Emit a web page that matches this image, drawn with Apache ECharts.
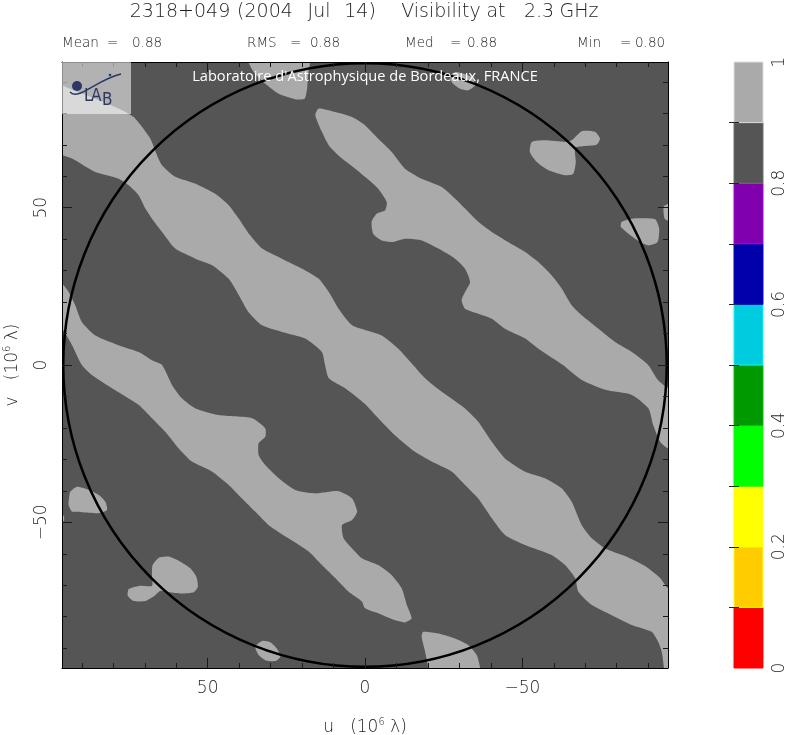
<!DOCTYPE html>
<html><head><meta charset="utf-8">
<script src="https://cdn.jsdelivr.net/npm/echarts@6/dist/echarts.min.js"></script>
<style>html,body{margin:0;padding:0;background:#fff}#c{width:786px;height:735px}</style>
</head><body><div id="c"></div>
<script>
// ---- axes / ticks (u, v in 10^6 lambda) ----
const axisRange = [-96.3, 96.3];
const minorTicks = [-90,-80,-70,-60,-50,-40,-30,-20,-10,0,10,20,30,40,50,60,70,80,90];
const majorTicks = [-50, 0, 50];
const circleCenter = [0, 0];
const circleRadius = 95.9;

// ---- colour scale ----
const cbEdges = [0,0.1,0.2,0.3,0.4,0.5,0.6,0.7,0.8,0.9,1];
const cbColors = ['#ff0000','#ffcc00','#ffff00','#00ff00','#009900','#00cce0','#0000aa','#8000b0','#555555','#aaaaaa'];
const cbLabels = [0,0.2,0.4,0.6,0.8,1];
const levelLow = 0.85;   // 0.8-0.9 band (background)
const levelHigh = 0.95;  // 0.9-1.0 band (light regions)

// ---- light (0.9 - 1.0) regions, outlines as [u, v] ----
const centralBand = [[98.5,90.6],[96.3,88.9],[85.7,84.6],[77.2,81.0],[73.5,78.8],[70.9,75.7],[68.2,71.9],[66.1,66.7],[64.5,63.5],[60.3,59.8],[53.9,57.6],[47.6,54.4],[43.3,50.8],[40.1,46.5],[36.5,41.2],[32.7,37.0],[26.4,33.8],[20.0,30.6],[14.7,27.4],[11.5,23.2],[8.4,17.9],[4.1,12.6],[0,11.1],[-5.3,9.4],[-10.6,5.2],[-15.3,0],[-19.1,-4.2],[-24.4,-8.5],[-31.8,-13.8],[-36.0,-18.0],[-40.3,-24.4],[-44.5,-29.7],[-50.9,-33.9],[-57.2,-36.0],[-62.5,-39.2],[-65.7,-43.5],[-68.9,-50.9],[-72.1,-55.1],[-76.3,-58.3],[-82.6,-60.7],[-89.0,-63.9],[-93.8,-67.7],[-96.3,-70.9],[-100.1,-70.9],[-100.1,-100.1],[-95.0,-100.1],[-95.0,-96.3],[-94.3,-91.1],[-93.2,-88.0],[-91.1,-84.8],[-84.8,-82.6],[-78.4,-79.5],[-72.1,-76.3],[-67.8,-72.1],[-66.8,-67.8],[-63.6,-63.6],[-59.3,-60.4],[-50.9,-57.2],[-44.5,-54.0],[-40.3,-48.7],[-36.0,-42.4],[-31.8,-38.1],[-27.6,-33.9],[-21.2,-30.7],[-15.9,-27.6],[-9.5,-22.3],[-4.2,-16.9],[0,-12.4],[6.3,-7.4],[11.5,-4.2],[12.7,0],[13.7,4.1],[19.0,8.4],[26.4,10.5],[32.7,12.6],[37.0,16.8],[40.1,22.2],[43.3,27.4],[48.6,31.7],[53.9,33.8],[60.3,37.0],[64.5,42.3],[67.7,46.5],[69.8,49.7],[71.9,53.9],[75.1,57.1],[78.3,59.2],[85.7,61.3],[93.1,65.6],[96.3,66.7],[98.5,66.8]];
const upperBand = [[14.7,81.5],[9.4,80.4],[4.1,78.8],[0,76.2],[-4.2,71.9],[-8.5,67.7],[-12.7,62.4],[-18.0,59.2],[-24.4,56.6],[-28.6,52.9],[-31.8,49.7],[-36.0,45.5],[-40.3,42.3],[-45.5,39.1],[-50.9,35.9],[-55.1,32.7],[-59.3,28.5],[-62.5,24.3],[-65.7,19.0],[-68.9,15.8],[-74.2,11.5],[-79.5,7.3],[-84.8,4.1],[-90.0,0],[-93.1,-4.8],[-96.3,-7.3],[-100.1,-7.3],[-100.1,-27.0],[-96.3,-26.5],[-93.8,-24.4],[-91.6,-19.1],[-90.1,-13.8],[-84.8,-9.5],[-76.3,-7.9],[-68.9,-4.8],[-62.9,0],[-55.1,5.2],[-50.9,8.4],[-44.5,11.5],[-40.3,14.7],[-36.0,16.3],[-31.8,17.9],[-30.7,20.6],[-31.8,23.2],[-33.4,26.4],[-31.8,30.6],[-28.6,33.8],[-23.3,37.0],[-18.0,39.6],[-12.7,40.1],[-9.0,39.1],[-5.3,39.6],[-2.6,41.7],[-2.1,45.5],[-3.7,48.1],[-6.4,49.2],[-6.9,51.8],[-4.2,56.0],[0,59.8],[3.1,62.4],[7.3,65.6],[11.5,69.8],[13.7,74.1],[15.8,79.4]];
const lowerBand = [[98.5,26.1],[96.3,25.8],[94.2,23.2],[92.1,19.0],[90.0,13.7],[85.7,9.4],[78.3,6.3],[71.9,4.1],[67.7,1.5],[64.5,0],[61.3,-6.4],[58.2,-10.6],[53.9,-13.8],[46.5,-15.9],[35.9,-16.9],[31.7,-20.1],[31.7,-22.8],[33.8,-24.9],[33.8,-28.6],[31.7,-31.8],[27.4,-36.0],[22.2,-39.7],[15.8,-40.8],[8.4,-40.1],[4.1,-42.4],[2.5,-46.6],[4.1,-49.3],[7.3,-50.9],[6.8,-55.1],[4.1,-58.3],[1.0,-61.4],[-4.2,-63.6],[-8.5,-66.8],[-11.7,-71.0],[-13.3,-76.3],[-14.8,-80.5],[-12.7,-81.8],[-8.5,-80.7],[-4.2,-78.9],[0,-77.3],[1.0,-75.2],[5.2,-72.1],[9.4,-67.8],[13.7,-63.6],[17.9,-59.3],[24.3,-55.1],[30.6,-50.9],[34.9,-46.6],[39.1,-42.4],[43.3,-38.1],[48.6,-33.9],[55.0,-30.7],[59.2,-26.5],[63.5,-21.2],[67.7,-16.9],[71.9,-12.7],[80.4,-7.4],[86.8,-3.2],[90.0,0],[93.1,6.3],[96.3,11.5],[98.5,11.8]];
const blobTop = [[37.5,98.5],[35.4,93.1],[31.7,89.4],[27.4,86.2],[22.2,84.5],[19.2,84.6],[18.4,87.8],[18.1,92.1],[17.7,98.5]];
const blobTopRight = [[-27.0,92.1],[-29.1,93.1],[-33.9,91.5],[-35.0,88.9],[-32.8,87.3],[-30.2,87.8],[-27.7,89.7]];
const blobPair = [[-53.0,70.9],[-57.2,71.4],[-63.6,70.9],[-65.7,71.4],[-68.9,74.3],[-73.1,74.1],[-74.7,71.9],[-73.6,70.0],[-69.9,69.6],[-66.8,69.0],[-67.0,64.5],[-66.2,60.8],[-63.6,60.3],[-58.3,61.9],[-54.6,64.5],[-52.4,67.7]];
const blobRight = [[-81.6,45.5],[-84.8,46.5],[-92.2,46.3],[-93.5,43.3],[-93.0,39.1],[-90.1,38.0],[-87.4,39.1],[-83.7,41.7],[-81.3,43.9]];
const blobEdgeRight = [[-95.0,50.5],[-98.2,51.5],[-98.2,45.5],[-95.3,46.4]];
const blobBottom = [[-18.5,-84.8],[-23.3,-85.3],[-28.6,-86.9],[-32.8,-89.0],[-35.5,-92.2],[-36.6,-96.3],[-36.9,-100.1],[-20.0,-100.1],[-20.1,-96.3],[-19.1,-91.1],[-18.0,-86.4]];
const blobLeft = [[93.7,-40.3],[91.5,-38.7],[87.8,-39.7],[84.6,-41.3],[82.5,-43.5],[82.0,-46.1],[84.6,-47.1],[90.0,-46.8],[93.1,-46.6],[94.2,-44.5],[94.0,-41.9]];
const blobEdgeLeft = [[96.9,-47.4],[95.7,-48.0],[95.7,-49.6],[96.9,-49.9]];
const blobLowLeft = [[67.5,-63.6],[65.6,-61.3],[62.4,-60.9],[58.7,-62.5],[55.5,-64.6],[53.6,-67.3],[53.1,-70.5],[54.4,-72.2],[58.2,-72.6],[62.4,-72.2],[65.1,-71.8],[67.2,-73.6],[69.8,-75.0],[73.5,-75.0],[75.4,-73.3],[75.1,-71.2],[71.9,-70.2],[67.7,-70.2],[67.7,-66.8]];
const blobSmall = [[34.9,-89.5],[32.7,-87.7],[30.1,-88.1],[28.0,-90.1],[26.9,-92.7],[28.5,-94.1],[31.7,-93.8],[33.8,-92.2]];
const lightRegions = [centralBand, upperBand, lowerBand, blobTop, blobTopRight, blobPair, blobRight, blobEdgeRight, blobBottom, blobLeft, blobEdgeLeft, blobLowLeft, blobSmall];

// ---- header texts ----
const titleWords = ['2318+049', '(2004', 'Jul', '14)', 'Visibility', 'at', '2.3', 'GHz'];
const statNames = ['Mean', 'RMS', 'Med', 'Min'];
const statValues = ['0.88', '0.88', '0.88', '0.80'];

// ---- styling / layout (pixels) ----
const titleCenters = [180, 265, 319, 360, 441, 496, 539, 579];
const statNameX = [62, 247, 405, 577];
const statEqX = [107, 290, 450, 620];
const statValX = [132, 310, 467, 635];
const TXT = '#1e1e1e';
const FONT = "'DejaVu Sans', sans-serif";
const THIN = 200;
function colorOf(level){ for (let i=0;i<cbColors.length;i++){ if(level>=cbEdges[i] && level<cbEdges[i+1]) return cbColors[i]; } return cbColors[cbColors.length-1]; }
const fmt = v => (v < 0 ? '\u2212' + (-v) : String(v));
const supRich = { sup: { fontSize: 10, fontFamily: FONT, fontWeight: THIN, color: TXT, padding: [0,0,9,0], verticalAlign: 'bottom' }, n: { fontSize: 17, fontFamily: FONT, fontWeight: THIN, color: TXT, verticalAlign: 'bottom' } };

function mkAxis(kind, pos, major, extra) {
  const a = {
    type: 'value', gridIndex: 0, min: axisRange[0], max: axisRange[1], position: pos, z: 10,
    inverse: kind === 'x',
    axisLine: { show: !major, onZero: false, lineStyle: { color: '#000', width: 1 } },
    axisTick: { show: true, inside: true, length: major ? 10 : 5, customValues: major ? majorTicks : minorTicks, lineStyle: { color: '#1a1a1a', width: 1 } },
    axisLabel: { show: false },
    splitLine: { show: false }
  };
  return Object.assign(a, extra || {});
}
function txt(s, x, y, size, align) {
  return { type: 'text', z: 100, x: x, y: y, style: { text: s, fontSize: size, fontFamily: FONT, fontWeight: THIN, fill: TXT, align: align, verticalAlign: 'middle' } };
}

const chart = echarts.init(document.getElementById('c'), null, { renderer: 'canvas' });
const option = {
  animation: false,
  backgroundColor: '#ffffff',
  grid: [
    { left: 62, top: 62, width: 606, height: 606, show: true, backgroundColor: colorOf(levelLow), borderWidth: 0, containLabel: false, outerBoundsMode: 'none' },
    { left: 734, top: 62, width: 29, height: 606, show: false, containLabel: false, outerBoundsMode: 'none' }
  ],
  xAxis: [
    mkAxis('x', 'bottom', false, {
      axisLabel: { show: true, customValues: majorTicks, formatter: fmt, fontSize: 17, fontFamily: FONT, fontWeight: THIN, color: TXT, margin: 12 },
      name: '{n|u   (10}{sup|6}{n| \u03bb)}', nameLocation: 'middle', nameGap: 49,
      nameTextStyle: { rich: supRich }
    }),
    mkAxis('x', 'bottom', true),
    mkAxis('x', 'top', false),
    mkAxis('x', 'top', true),
    { type: 'value', gridIndex: 1, min: 0, max: 1, show: false }
  ],
  yAxis: [
    mkAxis('y', 'left', false, {
      axisLabel: { show: true, customValues: majorTicks, formatter: fmt, rotate: 90, fontSize: 17, fontFamily: FONT, fontWeight: THIN, color: TXT, margin: 12 },
      name: '{n|v   (10}{sup|6}{n| \u03bb)}', nameLocation: 'middle', nameGap: 41, nameRotate: 90,
      nameTextStyle: { rich: supRich }
    }),
    mkAxis('y', 'left', true),
    mkAxis('y', 'right', false),
    mkAxis('y', 'right', true),
    { type: 'value', gridIndex: 1, min: 0, max: 1, position: 'right', z: 10,
      axisLine: { show: false },
      axisTick: { show: true, inside: true, length: 5, customValues: cbEdges.slice(1, -1), lineStyle: { color: '#222' } },
      axisLabel: { show: true, customValues: cbLabels, rotate: 90, fontSize: 17, fontFamily: FONT, fontWeight: THIN, color: TXT, margin: 8, formatter: v => (v === 0 || v === 1) ? String(v) : v.toFixed(1) },
      splitLine: { show: false } },
    { type: 'value', gridIndex: 1, min: 0, max: 1, position: 'left', z: 10,
      axisLine: { show: false },
      axisTick: { show: true, inside: true, length: 5, customValues: cbEdges.slice(1, -1), lineStyle: { color: '#222' } },
      axisLabel: { show: false }, splitLine: { show: false } }
  ],
  series: [
    {
      type: 'custom', name: 'light', xAxisIndex: 0, yAxisIndex: 0, clip: true, z: 2, silent: true,
      data: lightRegions.map((r, i) => [i, 0]),
      renderItem: function (params, api) {
        const pts = lightRegions[params.dataIndex].map(p => api.coord(p));
        return { type: 'polygon', shape: { points: pts, smooth: 0.2 }, style: { fill: colorOf(levelHigh), stroke: null } };
      }
    },
    {
      type: 'custom', name: 'circle', xAxisIndex: 0, yAxisIndex: 0, clip: false, z: 3, silent: true,
      data: [[circleCenter[0], circleCenter[1], circleRadius]],
      renderItem: function (params, api) {
        const c = api.coord([api.value(0), api.value(1)]);
        const e = api.coord([api.value(0) + api.value(2), api.value(1)]);
        return { type: 'circle', shape: { cx: c[0], cy: c[1], r: Math.abs(e[0] - c[0]) }, style: { fill: 'none', stroke: '#000', lineWidth: 2.5 } };
      }
    },
    {
      type: 'custom', name: 'colorbar', xAxisIndex: 4, yAxisIndex: 4, clip: false, z: 2, silent: true,
      data: cbColors.map((c, i) => [cbEdges[i], cbEdges[i + 1]]),
      renderItem: function (params, api) {
        const p0 = api.coord([0, api.value(1)]);
        const p1 = api.coord([1, api.value(0)]);
        const col = cbColors[params.dataIndex];
        return { type: 'rect', shape: { x: p0[0], y: p0[1], width: p1[0] - p0[0], height: p1[1] - p0[1] },
          style: { fill: col, stroke: echarts.color.lift(col, -0.3), lineWidth: 1 } };
      }
    }
  ],
  graphic: [
    // logo box
    { type: 'rect', z: 100, shape: { x: 62, y: 62, width: 69, height: 52 }, style: { fill: 'rgba(255,255,255,0.55)' } },
    { type: 'bezierCurve', z: 101, shape: { x1: 70, y1: 92, cpx1: 78, cpy1: 101, cpx2: 96, cpy2: 80, x2: 121, y2: 74 }, style: { fill: 'none', stroke: '#2c3766', lineWidth: 1.5 } },
    { type: 'circle', z: 102, shape: { cx: 77, cy: 86, r: 5 }, style: { fill: '#2c3766' } },
    { type: 'circle', z: 102, shape: { cx: 110, cy: 75, r: 1.3 }, style: { fill: '#2c3766' } },
    { type: 'text', z: 102, x: 84, y: 97, style: { text: 'L', fontSize: 17, fontFamily: "'DejaVu Sans Condensed', 'DejaVu Sans'", fill: '#2c3766', verticalAlign: 'middle' } },
    { type: 'text', z: 102, x: 91, y: 97, style: { text: 'A', fontSize: 17, fontFamily: "'DejaVu Sans Condensed', 'DejaVu Sans'", fill: '#2c3766', verticalAlign: 'middle' } },
    { type: 'text', z: 102, x: 102, y: 101, style: { text: 'B', fontSize: 17, fontFamily: "'DejaVu Sans Condensed', 'DejaVu Sans'", fill: '#2c3766', verticalAlign: 'middle' } },
    { type: 'text', z: 102, x: 365, y: 77, style: { text: "Laboratoire d'Astrophysique de Bordeaux, FRANCE", fontSize: 14.6, fontFamily: "'Open Sans', sans-serif", fill: '#ffffff', align: 'center', verticalAlign: 'middle' } },
    // title
    ...titleWords.map((w, i) => txt(w, titleCenters[i], 12.5, 19, 'center')),
    // stats
    ...statNames.map((w, i) => txt(w, statNameX[i], 43, 13.5, 'left')),
    ...statNames.map((w, i) => txt('=', statEqX[i], 43, 13.5, 'left')),
    ...statValues.map((w, i) => txt(w, statValX[i], 43, 13.5, 'left'))
  ]
};
chart.setOption(option);
</script></body></html>
